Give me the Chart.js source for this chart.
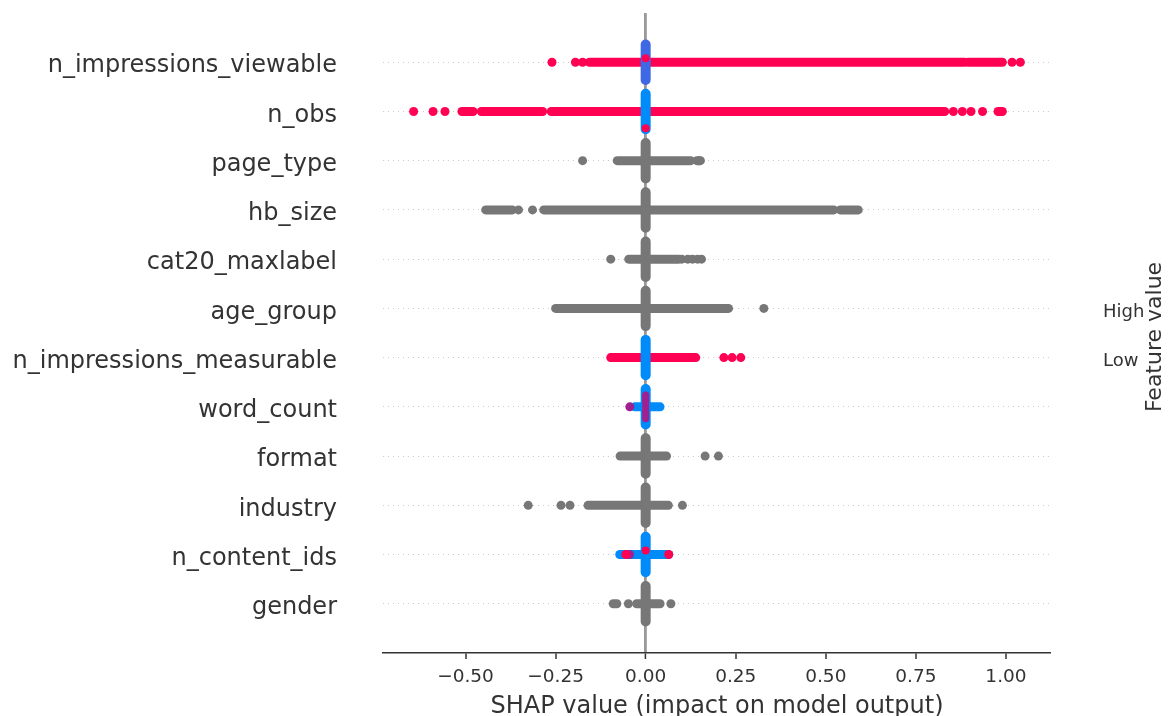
<!DOCTYPE html>
<html>
<head>
<meta charset="utf-8">
<script src="https://cdn.jsdelivr.net/npm/chart.js@4.4.1/dist/chart.umd.min.js"></script>
<style>
  html, body { margin: 0; padding: 0; background: #fff; }
</style>
</head>
<body>
<canvas id="chart" width="1168" height="716"></canvas>
<script>
const features = ['n_impressions_viewable', 'n_obs', 'page_type', 'hb_size', 'cat20_maxlabel', 'age_group',
  'n_impressions_measurable', 'word_count', 'format', 'industry', 'n_content_ids', 'gender'];

// stretches of SHAP values where the dots merge into a solid band, one list per feature row
const redRuns = [
  [[-0.156, 0.885], [0.895, 0.99]],
  [[-0.51, -0.479], [-0.456, -0.286], [-0.262, 0.83], [0.978, 0.99]],
  [], [], [], [],
  [[-0.097, 0.139]],
  [], [], [], [], []
];
const blueRuns = [[], [], [], [], [], [], [], [[-0.03, 0.04]], [], [], [[-0.072, 0.064]], []];
const grayRuns = [
  [], [],
  [[-0.079, 0.125], [0.142, 0.152]],
  [[-0.444, -0.37], [-0.283, 0.522], [0.54, 0.59]],
  [[-0.047, 0.092]],
  [[-0.25, 0.23]],
  [], [],
  [[-0.071, 0.058]],
  [[-0.16, 0.063]],
  [],
  [[-0.09, -0.08], [-0.025, 0.04]]
];

// single dots standing apart
const redDots = [
  [-0.26, -0.195, -0.175, 1.017, 1.04],
  [-0.644, -0.59, -0.557, 0.854, 0.879, 0.903, 0.935],
  [], [], [], [],
  [0.217, 0.24, 0.264],
  [], [], [],
  [-0.055, 0.064],
  []
];
const purpleDots = [[], [], [], [], [], [], [], [-0.044], [], [], [-0.045], []];
const grayDots = [
  [], [],
  [-0.175, 0.148],
  [-0.353, -0.314],
  [-0.097, 0.10, 0.117, 0.13, 0.144, 0.155],
  [0.328],
  [], [],
  [0.165, 0.202],
  [-0.326, -0.235, -0.21, 0.102],
  [],
  [-0.048, 0.07]
];

// pile of near-zero values stacked up at x = 0 (half height in rows, colour)
const pileHalf = [0.36, 0.36, 0.36, 0.36, 0.36, 0.36, 0.36, 0.36, 0.36, 0.36, 0.36, 0.36];
const pileColor = ['mixed', 'blue', 'gray', 'gray', 'gray', 'gray', 'blue', 'blue', 'gray', 'gray', 'blue', 'gray'];
const pileCore = [0, 0, 0, 0, 0, 0, 0, 0.24, 0, 0, 0, 0];
const pileRedSpots = [[-0.08], [0.34], [], [], [], [], [], [], [], [], [-0.08], []];

const xTickValues = [-0.5, -0.25, 0, 0.25, 0.5, 0.75, 1.0];
const colorLabels = ['Low', 'High'];
const colorTitle = 'Feature value';

const colors = { red: '#ff0052', blue: '#008bfb', gray: '#777777', mixed: '#3f68e4', purple: '#a0208f' };
const FONT = 'DejaVu Sans';
Chart.defaults.font.family = FONT;

const datasets = [];
function addRuns(runs, color) {
  runs.forEach((list, row) => list.forEach(([a, b]) => datasets.push({
    data: [{ x: a, y: row }, { x: b, y: row }],
    showLine: true, borderColor: color, borderWidth: 9, borderCapStyle: 'round',
    pointRadius: 0, order: 4
  })));
}
addRuns(grayRuns, colors.gray);
addRuns(redRuns, colors.red);
addRuns(blueRuns, colors.blue);

function dotData(lists) {
  return lists.flatMap((xs, row) => xs.map(x => ({ x: x, y: row })));
}
[[grayDots, colors.gray], [redDots, colors.red], [purpleDots, colors.purple]].forEach(([lists, c]) => {
  datasets.push({ data: dotData(lists), pointRadius: 4.5, pointBorderWidth: 0, backgroundColor: c, order: 3 });
});

features.forEach((f, row) => {
  datasets.push({
    data: [{ x: 0, y: row - pileHalf[row] }, { x: 0, y: row + pileHalf[row] }],
    showLine: true, borderColor: colors[pileColor[row]], borderWidth: 10, borderCapStyle: 'round',
    pointRadius: 0, order: 2
  });
  if (pileCore[row]) {
    datasets.push({
      data: [{ x: 0, y: row - pileCore[row] }, { x: 0, y: row + pileCore[row] }],
      showLine: true, borderColor: colors.purple, borderWidth: 7, borderCapStyle: 'round',
      pointRadius: 0, order: 1
    });
  }
});
datasets.push({
  data: pileRedSpots.flatMap((ys, row) => ys.map(dy => ({ x: 0, y: row + dy }))),
  pointRadius: 4, pointBorderWidth: 0, backgroundColor: colors.red, order: 0
});

const sideLabels = {
  id: 'sideLabels',
  afterDraw(chart) {
    const ctx = chart.ctx;
    const x0 = chart.chartArea.right + 52;
    const y = chart.scales.y;
    ctx.save();
    ctx.fillStyle = '#333333';
    ctx.textAlign = 'left';
    ctx.textBaseline = 'middle';
    ctx.font = '18px "' + FONT + '"';
    ctx.fillText(colorLabels[1], x0, y.getPixelForValue(5) + 4);
    ctx.fillText(colorLabels[0], x0, y.getPixelForValue(6) + 4);
    ctx.translate(x0 + 52, (y.getPixelForValue(5) + y.getPixelForValue(6)) / 2 + 4);
    ctx.rotate(-Math.PI / 2);
    ctx.textAlign = 'center';
    ctx.font = '22px "' + FONT + '"';
    ctx.fillText(colorTitle, 0, 0);
    ctx.restore();
  }
};

new Chart(document.getElementById('chart'), {
  type: 'scatter',
  data: { datasets: datasets },
  options: {
    responsive: false,
    animation: false,
    layout: { padding: { top: 13, right: 117, left: 0, bottom: 0 } },
    plugins: { legend: { display: false }, tooltip: { enabled: false } },
    scales: {
      x: {
        type: 'linear', min: -0.729, max: 1.125,
        afterBuildTicks: s => { s.ticks = xTickValues.map(v => ({ value: v })); },
        afterFit: s => { s.height = 63; s.paddingLeft = 0; s.paddingRight = 0; },
        ticks: {
          callback: v => (v < 0 ? '\u2212' : '') + Math.abs(v).toFixed(2),
          font: { size: 18.5 }, color: '#333333', padding: 7, maxRotation: 0
        },
        grid: {
          color: c => (c.tick && c.tick.value === 0) ? '#999999' : 'rgba(0,0,0,0)',
          lineWidth: c => (c.tick && c.tick.value === 0) ? 2.8 : 0,
          drawTicks: true, tickLength: 6, tickColor: '#333333', tickWidth: 1.5
        },
        border: { display: true, color: '#333333', width: 1.5 },
        title: {
          display: true, text: 'SHAP value (impact on model output)',
          font: { size: 24, lineHeight: 1 }, color: '#333333', padding: { top: 0, bottom: -3 }
        }
      },
      y: {
        type: 'linear', reverse: true, min: -1, max: 12,
        afterBuildTicks: s => { s.ticks = features.map((f, i) => ({ value: i })); },
        afterFit: s => { s.width = 383; s.paddingTop = 0; s.paddingBottom = 0; },
        ticks: {
          callback: v => features[v], font: { size: 24 }, color: '#333333',
          padding: 46, labelOffset: 4, autoSkip: false
        },
        grid: { color: '#cccccc', lineWidth: 1, drawTicks: false },
        border: { display: false, dash: [1, 4] }
      }
    }
  },
  plugins: [sideLabels]
});
</script>
</body>
</html>
